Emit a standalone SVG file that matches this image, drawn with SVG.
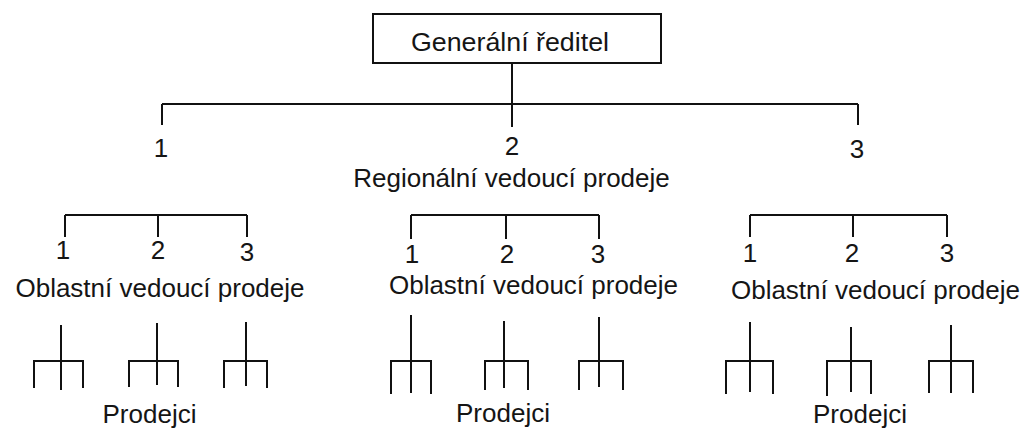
<svg xmlns="http://www.w3.org/2000/svg" width="1027" height="430" viewBox="0 0 1027 430">
<style>
.t{font-family:"Liberation Sans",Arial,sans-serif;font-size:26px;fill:#151515;text-anchor:middle}
.l{stroke:#111;stroke-width:2;fill:none}
</style>
<rect width="1027" height="430" fill="#fff"/>
<g id="connectors" class="l">
<path d="M512 63V104M162 104H858M162 104V125M512 104V127M858 104V125"/>
<path d="M65 215H247M65 215V237M158 215V237M247 215V237"/>
<path d="M411 215H599M411 215V239M506 215V239M599 215V239"/>
<path d="M750 215H947M750 215V237M853 215V237M947 215V237"/>
<path d="M61 325V390M34 388V361H83V388"/>
<path d="M157 323V385M129 387V361H178V387"/>
<path d="M246 322V386M224 388V361H267V388"/>
<path d="M411 315V393M391 394V361H431V394"/>
<path d="M504 321V388M485 390V361H528V390"/>
<path d="M599 317V387M579 390V361H623V390"/>
<path d="M750 322V392M726 394V361H773V394"/>
<path d="M851 327V392M827 396V361H871V394"/>
<path d="M951 325V393M929 393V361H973V393"/>
</g>
<g id="gen">
<rect x="373" y="14" width="288" height="49" class="l"/>
<text class="t" x="510" y="51" textLength="198" lengthAdjust="spacingAndGlyphs">Generální ředitel</text>
</g>
<g id="regional">
<text class="t" x="161" y="157">1</text>
<text class="t" x="512" y="155">2</text>
<text class="t" x="857" y="158">3</text>
<text class="t" x="511.5" y="187">Regionální vedoucí prodeje</text>
</g>
<g id="area1">
<text class="t" x="63" y="259">1</text>
<text class="t" x="158" y="259">2</text>
<text class="t" x="247" y="261">3</text>
<text class="t" x="160" y="297">Oblastní vedoucí prodeje</text>
</g>
<g id="area2">
<text class="t" x="412" y="263">1</text>
<text class="t" x="507" y="263">2</text>
<text class="t" x="598" y="263">3</text>
<text class="t" x="533.5" y="294">Oblastní vedoucí prodeje</text>
</g>
<g id="area3">
<text class="t" x="750" y="262">1</text>
<text class="t" x="852" y="262">2</text>
<text class="t" x="947" y="262">3</text>
<text class="t" x="875.5" y="299">Oblastní vedoucí prodeje</text>
</g>
<g id="sales1"><text class="t" x="149.5" y="423">Prodejci</text></g>
<g id="sales2"><text class="t" x="503" y="422">Prodejci</text></g>
<g id="sales3"><text class="t" x="860" y="423">Prodejci</text></g>
</svg>
